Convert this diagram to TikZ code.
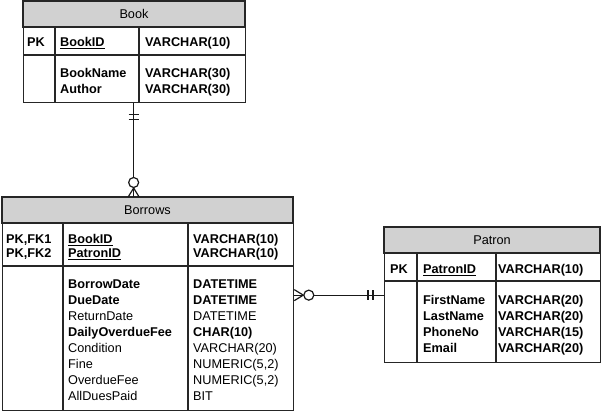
\documentclass[tikz,border=0pt]{standalone}
\usepackage{fontspec}
\setmainfont{Liberation Sans}
\usepackage{tikz}
\usetikzlibrary{positioning, calc}

\begin{document}
\begin{tikzpicture}[
  x=1pt, y=-1pt,
  font=\fontsize{12.7}{16}\selectfont,
  tbl/.style={draw=black!85, line width=1.3pt, fill=white, inner sep=0pt, anchor=north west},
  hdr/.style={fill=black!18, draw=black!85, line width=1.3pt},
  rule/.style={draw=black!85, line width=1.3pt},
  lbl/.style={inner sep=0pt, text height=9pt, text depth=0pt},
  txt/.style={lbl, anchor=west},
  ktxt/.style={txt, font=\fontsize{12.7}{16}\selectfont\bfseries},
  rel/.style={draw=black!90, line width=1.2pt},
  onemark/.pic={\draw[rel] (-5,11) -- (5,11) (-5,16) -- (5,16);},
  manymark/.pic={\draw[rel] (0,9) -- (-5.5,0) (0,9) -- (5.5,0);
                 \draw[rel, fill=white] (0,14.5) circle[radius=5];},
]
  \useasboundingbox (0,0) rectangle (602,411);

  % Book table (w 222, h 101)
  \begin{scope}[shift={(23,1)}]
    \node[tbl, minimum width=222pt, minimum height=101pt] (book) at (0,0) {};
    \filldraw[hdr] (0,0) rectangle (222,26);
    \draw[rule] (0,54) -- (222,54) (32,26) -- (32,101) (116,26) -- (116,101);
    \node[lbl] (book-t) at (111,13.5) {Book};
    \node[ktxt] (book-pk) at (4,41) {PK};
    \node[ktxt] (book-k) at (37,41) {\underline{BookID}};
    \node[ktxt] (book-kt) at (122,41) {VARCHAR(10)};
    \foreach \n/\t [count=\i from 0] in {BookName/VARCHAR(30), Author/VARCHAR(30)} {
      \node[ktxt] (book-n\i) at (37,{72+16*\i}) {\n};
      \node[ktxt] (book-t\i) at (122,{72+16*\i}) {\t};
    }
  \end{scope}

  % Borrows table (w 291, h 213)
  \begin{scope}[shift={(2,197)}]
    \node[tbl, minimum width=291pt, minimum height=213pt] (borrows) at (0,0) {};
    \filldraw[hdr] (0,0) rectangle (291,26);
    \draw[rule] (0,69) -- (291,69) (61,26) -- (61,213) (186,26) -- (186,213);
    \node[lbl] (borrows-t) at (145.5,13.5) {Borrows};
    \foreach \p/\n [count=\i from 0] in {{PK,FK1}/BookID, {PK,FK2}/PatronID} {
      \node[ktxt] (borrows-pk\i) at (4,{42+14*\i}) {\p};
      \node[ktxt] (borrows-k\i) at (66,{42+14*\i}) {\underline{\n}};
      \node[ktxt] (borrows-kt\i) at (191,{42+14*\i}) {VARCHAR(10)};
    }
    \foreach \n/\t/\s [count=\i from 0] in {%
      BorrowDate/DATETIME/ktxt,%
      DueDate/DATETIME/ktxt,%
      ReturnDate/DATETIME/txt,%
      DailyOverdueFee/CHAR(10)/ktxt,%
      Condition/VARCHAR(20)/txt,%
      Fine/{NUMERIC(5,2)}/txt,%
      OverdueFee/{NUMERIC(5,2)}/txt,%
      AllDuesPaid/BIT/txt%
    }{
      \node[\s] (borrows-n\i) at (66,{87+16*\i}) {\n};
      \node[\s] (borrows-t\i) at (191,{87+16*\i}) {\t};
    }
  \end{scope}

  % Patron table (w 216, h 135)
  \begin{scope}[shift={(384,227)}]
    \node[tbl, minimum width=216pt, minimum height=135pt] (patron) at (0,0) {};
    \filldraw[hdr] (0,0) rectangle (216,26);
    \draw[rule] (0,54) -- (216,54) (33,26) -- (33,135) (112,26) -- (112,135);
    \node[lbl] (patron-t) at (108,13.5) {Patron};
    \node[ktxt] (patron-pk) at (6,42) {PK};
    \node[ktxt] (patron-k) at (39,42) {\underline{PatronID}};
    \node[ktxt] (patron-kt) at (114,42) {VARCHAR(10)};
    \foreach \n/\t [count=\i from 0] in {%
      FirstName/VARCHAR(20), LastName/VARCHAR(20),%
      PhoneNo/VARCHAR(15), Email/VARCHAR(20)} {
      \node[ktxt] (patron-n\i) at (39,{73+16*\i}) {\n};
      \node[ktxt] (patron-t\i) at (114,{73+16*\i}) {\t};
    }
  \end{scope}

  % Relationships (one -- zero or many)
  \coordinate (bk-end) at ([xshift=-1pt]book.south);
  \coordinate (br-top) at (bk-end |- borrows.north);
  \draw[rel] (bk-end) -- (br-top);
  \pic at (bk-end) {onemark};
  \pic[rotate=180] at (br-top) {manymark};

  \coordinate (pt-end) at (patron.west);
  \coordinate (br-side) at (pt-end -| borrows.east);
  \draw[rel] (pt-end) -- (br-side);
  \pic[rotate=-90] at (pt-end) {onemark};
  \pic[rotate=90] at (br-side) {manymark};
\end{tikzpicture}
\end{document}
